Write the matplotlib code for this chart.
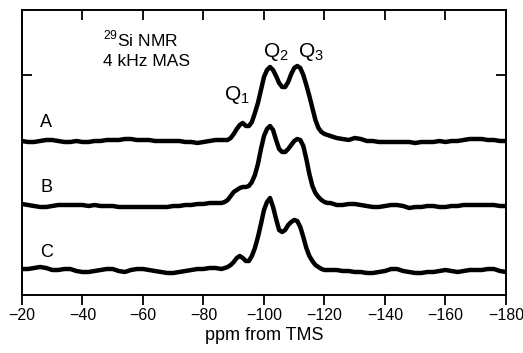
import matplotlib.pyplot as plt
import numpy as np

plt.rcParams["font.family"] = ["Liberation Sans", "DejaVu Sans"]

# chemical shift grid (ppm from TMS)
ppm = np.array(
    list(range(-20, -85, -2))
    + list(range(-86, -125, -1))
    + list(range(-126, -181, -2))
)

# intensities above each trace baseline (arbitrary units)
int_a = [
    0, -1, -1, 0, 1, 1, 0, -1, -1, 0, -1, -1, 0, 0, 1, 1, 1,
    2, 2, 1, 1, 1, 0, 0, 0, 0, 0, -1, -1, -2, -1, 0, 1,
    1, 1, 1, 3, 7, 12, 16, 18, 15, 15, 19, 28, 38, 51, 64, 71, 74, 71, 65, 58,
    54, 54, 59, 67, 73, 75, 73, 66, 56, 45, 33, 21, 13, 9, 7, 6, 5, 4, 3,
    2, 1, 3, 2, 0, 0, -1, -1, -1, -1, -1, -1, -2, -1,
    -1, -1, 0, -1, 0, 0, 1, 2, 2, 2, 1, 1, 0, 0,
]
int_b = [
    2, 1, 0, -1, -1, 0, 1, 1, 1, 1, 1, 0, 1, 0, 0, 0, -1,
    -1, -1, -1, -1, -1, -1, -1, -1, 0, 0, 1, 1, 2, 2, 3, 3,
    3, 4, 6, 10, 14, 16, 18, 19, 19, 20, 24, 31, 42, 57, 70, 77, 80, 76, 66, 57,
    54, 54, 57, 61, 65, 67, 66, 60, 47, 32, 20, 13, 9, 6, 4, 3, 3, 2, 1,
    1, 2, 2, 1, 0, -1, -1, 0, 1, 1, 0, -2, -1, -1,
    0, 0, -1, -1, 0, 0, 1, 1, 1, 1, 1, 1, 0, 0,
]
int_c = [
    1, 1, 2, 3, 2, 0, 0, 1, 1, -1, -2, -2, -1, 0, 1, 1, -1,
    -2, 0, 1, 1, 0, -1, -2, -3, -3, -2, -1, 0, 1, 1, 2, 2,
    1, 2, 3, 5, 8, 12, 14, 12, 9, 9, 14, 22, 33, 46, 60, 68, 72, 63, 51, 40,
    38, 40, 45, 48, 50, 49, 43, 33, 22, 14, 9, 5, 3, 1, 0, 0, 0, 0, 0,
    -1, -1, -2, -2, -3, -3, -2, -1, 1, 1, -1, -2, -3, -3,
    -2, -2, -1, 0, -1, -2, -1, 0, 0, 0, 1, 1, -1, -2,
]

labels = ["A", "B", "C"]
offsets = [154, 89, 25]
scale = 100.0

fig = plt.figure(figsize=(5.23, 3.53), dpi=100)
ax = fig.add_axes([0.042, 0.1643, 0.9255, 0.8074])

for name, off, vals in zip(labels, offsets, [int_a, int_b, int_c]):
    y = (off + np.array(vals, dtype=float)) / scale
    ax.plot(ppm, y, color="black", linewidth=3.2, solid_capstyle="round")
    ax.text(-28, (off + 18) / scale, name, fontsize=13, ha="center", va="center")

ax.text(-46.8, 2.56, r"$^{\mathregular{29}}$Si NMR", fontsize=12.5, ha="left", va="center")
ax.text(-46.8, 2.33, "4 kHz MAS", fontsize=12.5, ha="left", va="center")
ax.text(-91, 2.00, r"Q$_\mathregular{1}$", fontsize=15, ha="center", va="center")
ax.text(-104, 2.43, r"Q$_\mathregular{2}$", fontsize=15, ha="center", va="center")
ax.text(-115.5, 2.43, r"Q$_\mathregular{3}$", fontsize=15, ha="center", va="center")

ax.set_xlim(-20, -180)
ax.set_ylim(0, 2.85)
ax.set_xticks(np.arange(-20, -181, -20))
ax.set_xticklabels([f"\u2212{abs(v)}" for v in range(20, 181, 20)])
ax.set_yticks([2.20])
ax.set_yticklabels([])
ax.tick_params(axis="y", direction="in", left=True, right=True, length=7, width=1.3)
ax.tick_params(axis="x", direction="out", bottom=True, length=7, width=1.3, labelsize=11.5, pad=2)
ax2 = ax.secondary_xaxis("top")
ax2.set_xticks(np.arange(-20, -181, -20))
ax2.tick_params(axis="x", direction="in", length=7, width=1.3, labeltop=False)
ax2.spines["top"].set_visible(False)
ax.set_xlabel("ppm from TMS", fontsize=13, labelpad=3)
for sp in ax.spines.values():
    sp.set_linewidth(1.4)

plt.savefig("out.png", dpi=100)
plt.close()
